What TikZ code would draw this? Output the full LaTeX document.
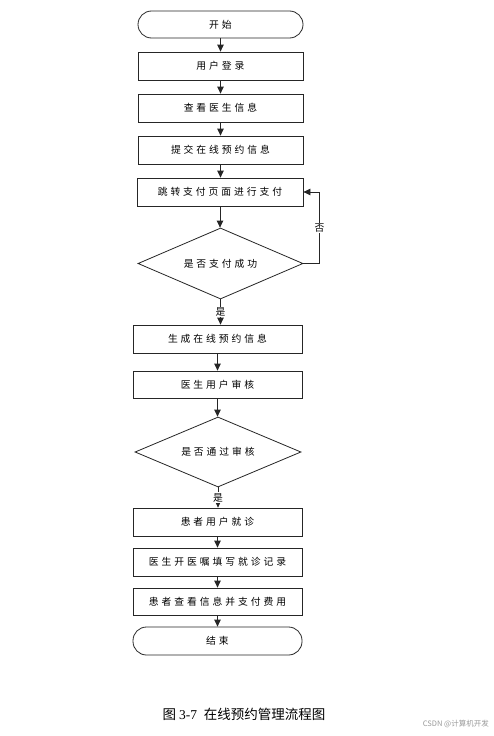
\documentclass[tikz,border=0pt]{standalone}
\usepackage{fontspec}
\newfontfamily\cjk[LetterSpace=30]{Noto Sans CJK SC}
\newfontfamily\capcjk{Noto Sans CJK SC}
\newfontfamily\capnum{Liberation Serif}
\usetikzlibrary{shapes.geometric,arrows.meta}
\begin{document}
\begin{tikzpicture}[x=1pt,y=-1pt,
  box/.style={draw=black!85, line width=0.8pt, rectangle, minimum width=165pt, minimum height=28pt, inner sep=0pt,
    font=\cjk\fontsize{9.8}{11}\selectfont},
  term/.style={box, rounded corners=13.5pt, minimum height=27pt},
  dec/.style={draw=black!85, line width=0.8pt, diamond, inner sep=0pt, font=\cjk\fontsize{9.8}{11}\selectfont},
  arr/.style={draw=black!85, line width=0.8pt, -{Triangle[length=7pt,width=6.5pt]}},
  lbl/.style={fill=white, inner sep=1pt, font=\cjk\fontsize{9.8}{11}\selectfont}]
\useasboundingbox (0,0) rectangle (493,736);
\fill[white] (0,0) rectangle (493,736);

\node[term] (start) at (220.5,24.5) {开始};
\node[box] (login) at (220.5,66) {用户登录};
\node[box] (view) at (220.5,108) {查看医生信息};
\node[box] (submit) at (220.5,150) {提交在线预约信息};
\node[box, minimum width=166pt] (pay) at (220,192) {跳转支付页面进行支付};
\node[dec, minimum width=165pt, minimum height=71pt, aspect=2.32] (dpay) at (220.5,263.5) {是否支付成功};
\node[box, minimum width=169pt] (gen) at (217.5,339) {生成在线预约信息};
\node[box, minimum width=169pt, minimum height=27pt] (audit) at (217.5,384.5) {医生用户审核};
\node[dec, minimum width=166pt, minimum height=70pt, aspect=2.37] (daudit) at (218,452) {是否通过审核};
\node[box, minimum width=169pt] (visit) at (217.5,522) {患者用户就诊};
\node[box, minimum width=169pt] (record) at (217.5,562) {医生开医嘱填写就诊记录};
\node[box, minimum width=169pt, minimum height=27pt] (fee) at (217.5,601.5) {患者查看信息并支付费用};
\node[term, minimum width=169pt, minimum height=28pt] (end) at (217.5,641) {结束};

\draw[arr] (start) -- (login);
\draw[arr] (login) -- (view);
\draw[arr] (view) -- (submit);
\draw[arr] (submit.south) -- (submit.south |- pay.north);
\draw[arr] (pay.south) -- (pay.south |- dpay.north);
\draw[arr] (dpay.south) -- (dpay.south |- gen.north) node[lbl, midway] (yes1) {是};
\draw[arr] (dpay.east) -- ++(16,0) |- (pay.east) node[lbl, pos=0.25] (no1) {否};
\draw[arr] (gen.south) -- (gen.south |- audit.north);
\draw[arr] (audit.south) -- (audit.south |- daudit.north);
\draw[arr] (daudit.south) -- (daudit.south |- visit.north) node[lbl, midway] (yes2) {是};
\draw[arr] (visit) -- (record);
\draw[arr] (record) -- (fee);
\draw[arr] (fee) -- (end);

\node[font=\fontsize{13.5}{15}\selectfont, inner sep=0pt] (caption) at (244,714) {\capcjk 图\ \capnum 3-7\ \ \capcjk 在线预约管理流程图};
\node[font=\capcjk\fontsize{7.5}{9}\selectfont, text=black!40, inner sep=0pt, anchor=east] (mark) at (489,724) {CSDN @计算机开发};
\end{tikzpicture}
\end{document}
